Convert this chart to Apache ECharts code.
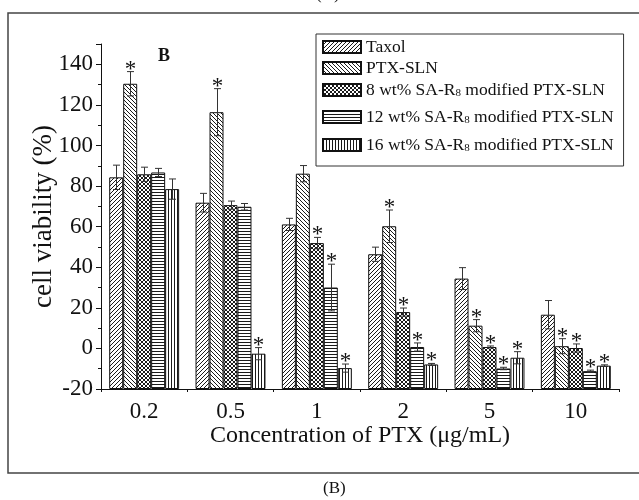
<!DOCTYPE html>
<html>
<head>
<meta charset="utf-8">
<script src="https://cdn.jsdelivr.net/npm/echarts@6/dist/echarts.min.js"></script>
<style>html,body{margin:0;padding:0;background:#fff;}#c{width:639px;height:500px;}</style>
</head>
<body>
<div id="c"></div>
<script>
// ---- data ----
var categories = ['0.2', '0.5', '1', '2', '5', '10'];
var seriesNames = ['Taxol', 'PTX-SLN', '8 wt% SA-R8 modified PTX-SLN', '12 wt% SA-R8 modified PTX-SLN', '16 wt% SA-R8 modified PTX-SLN'];
var taxol    = [84.3, 71.8, 61.1, 46.4, 34.4, 16.6];
var taxolErr = [6.0, 4.6, 3.0, 3.5, 5.4, 7.0];
var taxolSig = [0, 0, 0, 0, 0, 0];
var ptxSln    = [130.4, 116.4, 86.1, 60.2, 11.2, 1.1];
var ptxSlnErr = [6.0, 11.6, 4.0, 8.0, 3.0, 3.7];
var ptxSlnSig = [1, 1, 0, 1, 1, 1];
var wt8    = [85.8, 70.6, 51.9, 17.9, 0.7, 0.2];
var wt8Err = [3.5, 2.0, 2.8, 2.0, 0.5, 2.0];
var wt8Sig = [0, 0, 1, 1, 1, 1];
var wt12    = [86.7, 69.8, 30.0, 0.7, -9.9, -11.2];
var wt12Err = [2.0, 1.6, 11.5, 2.0, 0.6, 0.5];
var wt12Sig = [0, 0, 1, 1, 1, 1];
var wt16    = [78.5, -2.6, -9.7, -7.9, -4.6, -8.5];
var wt16Err = [5.0, 3.0, 2.0, 0.5, 3.0, 0.4];
var wt16Sig = [0, 1, 1, 1, 1, 1];
var yTickMin = -20, yTickMax = 150, yTickStep = 20;

var values = [taxol, ptxSln, wt8, wt12, wt16];
var errors = [taxolErr, ptxSlnErr, wt8Err, wt12Err, wt16Err];
var sigs = [taxolSig, ptxSlnSig, wt8Sig, wt12Sig, wt16Sig];

// ---- patterns ----
function pattern(kind) {
  var c = document.createElement('canvas');
  var ctx;
  var dark = '#1a1a1a';
  if (kind === 'fwd' || kind === 'back' || kind === 'cross') {
    c.width = 4; c.height = 4; ctx = c.getContext('2d');
    ctx.fillStyle = '#fff'; ctx.fillRect(0, 0, 4, 4);
    ctx.fillStyle = dark;
    for (var i = 0; i < 4; i++) {
      if (kind === 'fwd' || kind === 'cross') ctx.fillRect(i, 3 - i, 1, 1);
      if (kind === 'back' || kind === 'cross') ctx.fillRect(i, i, 1, 1);
    }
  } else if (kind === 'horiz') {
    c.width = 3; c.height = 3; ctx = c.getContext('2d');
    ctx.fillStyle = '#fff'; ctx.fillRect(0, 0, 3, 3);
    ctx.fillStyle = dark; ctx.fillRect(0, 0, 3, 1);
  } else {
    c.width = 3; c.height = 3; ctx = c.getContext('2d');
    ctx.fillStyle = '#fff'; ctx.fillRect(0, 0, 3, 3);
    ctx.fillStyle = dark; ctx.fillRect(0, 0, 1, 3);
  }
  return { image: c, repeat: 'repeat' };
}
var patterns = [pattern('fwd'), pattern('back'), pattern('cross'), pattern('horiz'), pattern('vert')];

var FONT = '"Liberation Serif", "Times New Roman", serif';
var GAP = 0.19;

var series = [];
seriesNames.forEach(function (nm, s) {
  series.push({
    type: 'bar', name: nm, xAxisIndex: 0, yAxisIndex: 0,
    data: values[s].map(function (v) { return v - yTickMin; }),
    barGap: '0%', barCategoryGap: (GAP * 100) + '%',
    itemStyle: { color: patterns[s], borderColor: '#111', borderWidth: 1 },
    emphasis: { disabled: true }
  });
});

var errData = [];
values.forEach(function (arr, s) {
  arr.forEach(function (v, i) {
    errData.push([i, v - yTickMin, errors[s][i], sigs[s][i], s]);
  });
});

series.push({
  type: 'custom', xAxisIndex: 0, yAxisIndex: 0, z: 5, silent: true,
  encode: { x: 0, y: 1 },
  data: errData,
  renderItem: function (params, api) {
    var cat = api.value(0), v = api.value(1), e = api.value(2), sig = api.value(3), s = api.value(4);
    var band = api.size([1, 0])[0];
    var bw = band * (1 - GAP) / 5;
    var cx = Math.round(api.coord([cat, 0])[0] + (s - 2) * bw) + 0.5;
    var yt = api.coord([cat, v + e])[1];
    var yb = api.coord([cat, v - e])[1];
    var cw = 3.5;
    var st = { stroke: '#333', lineWidth: 1 };
    var ch = [
      { type: 'line', shape: { x1: cx, y1: yt, x2: cx, y2: yb }, style: st },
      { type: 'line', shape: { x1: cx - cw, y1: yt, x2: cx + cw, y2: yt }, style: st },
      { type: 'line', shape: { x1: cx - cw, y1: yb, x2: cx + cw, y2: yb }, style: st }
    ];
    if (sig) {
      ch.push({ type: 'text', style: { text: '*', x: cx, y: yt - 2, align: 'center', verticalAlign: 'middle', font: '23px ' + FONT, fill: '#111' } });
    }
    return { type: 'group', children: ch };
  }
});

var chart = echarts.init(document.getElementById('c'), null, { renderer: 'canvas' });
chart.setOption({
  animation: false,
  backgroundColor: '#fff',
  grid: { left: 101, right: 20, top: 44, bottom: 111, containLabel: false },
  xAxis: [{
    type: 'category', data: categories, position: 'bottom',
    axisLine: { lineStyle: { color: '#111', width: 1 } },
    axisTick: { alignWithLabel: true, length: 6, lineStyle: { color: '#111' } },
    axisLabel: { fontFamily: FONT, fontSize: 23, color: '#111', margin: 11 },
    name: 'Concentration of PTX (\u03bcg/mL)', nameLocation: 'middle', nameGap: 35, nameMoveOverlap: false,
    nameTextStyle: { fontFamily: FONT, fontSize: 24, color: '#111' }
  }, {
    type: 'category', data: categories, position: 'bottom', gridIndex: 0,
    axisLine: { show: false },
    axisTick: { show: true, length: 3, lineStyle: { color: '#111' } },
    axisLabel: { show: false }
  }],
  yAxis: {
    type: 'value', min: 0, max: yTickMax - yTickMin, interval: yTickStep,
    axisLine: { show: true, lineStyle: { color: '#111', width: 1 } },
    axisTick: { show: true, length: 5, lineStyle: { color: '#111' } },
    minorTick: { show: true, splitNumber: 2, length: 3, lineStyle: { color: '#111' } },
    splitLine: { show: false },
    axisLabel: {
      fontFamily: FONT, fontSize: 23, color: '#111', margin: 8, showMaxLabel: false,
      formatter: function (v) { return v >= yTickMax - yTickMin ? '' : String(v + yTickMin); }
    },
    name: 'cell viability (%)', nameLocation: 'middle', nameGap: 44, nameMoveOverlap: false,
    nameTextStyle: { fontFamily: FONT, fontSize: 27, color: '#111' }
  },
  legend: {
    orient: 'vertical', left: 316, top: 34,
    padding: [4, 10, 12, 6], itemGap: 3,
    itemWidth: 38, itemHeight: 12, icon: 'rect',
    backgroundColor: '#fff', borderColor: '#333', borderWidth: 1,
    data: seriesNames,
    formatter: function (name) {
      var m = name.match(/^(\d+) wt% SA-R8 (.*)$/);
      if (!m) return name;
      var tok = m[1] === '8' ? 's1' : (m[1] === '12' ? 's2' : 's3');
      return m[1] + ' wt% SA-R{' + tok + '|8} ' + m[2];
    },
    textStyle: {
      fontFamily: FONT, fontSize: 17.5, color: '#111', lineHeight: 18,
      rich: {
        s1: { fontFamily: FONT, fontSize: 11, lineHeight: 11, verticalAlign: 'bottom', padding: [8, 0, 0, 0], color: '#111' },
        s2: { fontFamily: FONT, fontSize: 11, lineHeight: 11, verticalAlign: 'bottom', padding: [13, 0, 0, 0], color: '#111' },
        s3: { fontFamily: FONT, fontSize: 11, lineHeight: 11, verticalAlign: 'bottom', padding: [14, 0, 0, 0], color: '#111' }
      }
    }
  },
  graphic: [
    { type: 'rect', shape: { x: 8, y: 13, width: 640, height: 460 }, style: { fill: 'none', stroke: '#444', lineWidth: 1.5 }, silent: true },
    { type: 'text', left: 158, top: 47, style: { text: 'B', font: 'bold 18px ' + FONT, fill: '#111' } },
    { type: 'text', left: 323, top: 480, style: { text: '(B)', font: '17px ' + FONT, fill: '#111' } },
    { type: 'text', left: 316, top: -14, style: { text: '(A)', font: '17px ' + FONT, fill: '#111' } }
  ],
  series: series
});
</script>
</body>
</html>
